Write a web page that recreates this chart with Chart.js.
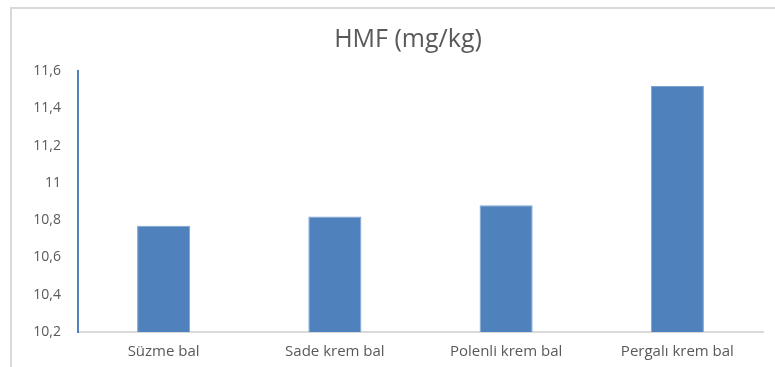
<!DOCTYPE html>
<html>
<head>
<meta charset="utf-8">
<style>
  html, body { margin: 0; padding: 0; background: #ffffff; }
  #wrap { position: relative; width: 775px; height: 367px; }
</style>
<script src="https://cdn.jsdelivr.net/npm/chart.js@4/dist/chart.umd.min.js"></script>
</head>
<body>
<div id="wrap"><canvas id="c" width="775" height="367"></canvas></div>
<script>
// Honey types and their HMF content (mg/kg)
const categories = ['Süzme bal', 'Sade krem bal', 'Polenli krem bal', 'Pergalı krem bal'];
const hmfValues = [10.77, 10.82, 10.88, 11.52];
const yTicks = [10.2, 10.4, 10.6, 10.8, 11, 11.2, 11.4, 11.6];

const FONT = '"Open Sans", Lato, sans-serif';
const TEXT = '#595959';

// Light frame along the top and left edges of the chart box
const framePlugin = {
  id: 'frame',
  beforeDraw(chart) {
    const ctx = chart.ctx;
    ctx.save();
    ctx.strokeStyle = '#d9d9d9';
    ctx.lineWidth = 2;
    ctx.beginPath();
    ctx.moveTo(11, chart.height);
    ctx.lineTo(11, 8);
    ctx.lineTo(chart.width, 8);
    ctx.stroke();
    ctx.restore();
  }
};

// Centre the title a little right of the canvas middle, over the framed box
const titleShift = {
  id: 'titleShift',
  afterLayout(chart) {
    const t = chart.titleBlock;
    if (t) {
      t.left = 53;
      t.width = t.right - t.left;
    }
  }
};

new Chart(document.getElementById('c'), {
  type: 'bar',
  data: {
    labels: categories,
    datasets: [{
      label: 'HMF (mg/kg)',
      data: hmfValues,
      backgroundColor: '#4f81bd',
      borderColor: '#7fa3d1',
      borderWidth: 1,
      categoryPercentage: 1,
      barPercentage: 0.31
    }]
  },
  options: {
    responsive: false,
    animation: false,
    layout: { padding: { left: 0, right: 12, top: 0, bottom: 0 } },
    plugins: {
      legend: { display: false },
      tooltip: { enabled: false },
      title: {
        display: true,
        text: 'HMF (mg/kg)',
        color: TEXT,
        font: { family: FONT, size: 25, weight: 'normal', lineHeight: 1.2 },
        padding: { top: 25, bottom: 16 }
      }
    },
    scales: {
      x: {
        afterFit(scale) { scale.height = 35; },
        grid: { display: false, drawTicks: false, tickLength: 0 },
        border: { display: true, color: '#d9d9d9', width: 2 },
        ticks: {
          color: TEXT,
          font: { family: FONT, size: 15 },
          padding: 11,
          maxRotation: 0
        }
      },
      y: {
        min: 10.2,
        max: 11.6,
        afterFit(scale) { scale.width = 78; },
        afterBuildTicks(scale) { scale.ticks = yTicks.map(v => ({ value: v })); },
        grid: { display: false, drawTicks: false, tickLength: 0 },
        border: { display: true, color: '#4f81bd', width: 2 },
        ticks: {
          color: TEXT,
          font: { family: FONT, size: 14 },
          padding: 17,
          callback: v => String(Number(v.toFixed(1))).replace('.', ',')
        }
      }
    }
  },
  plugins: [framePlugin, titleShift]
});
</script>
</body>
</html>
